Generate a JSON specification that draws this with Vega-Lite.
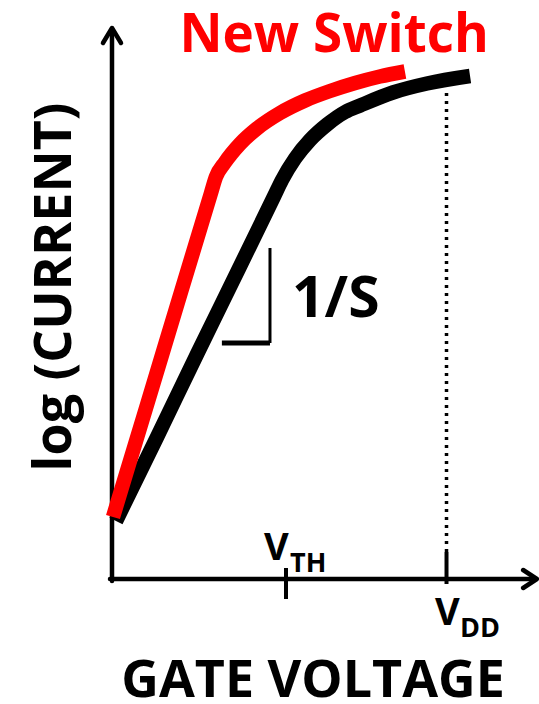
{
  "$schema": "https://vega.github.io/schema/vega-lite/v6.json",
  "width": 539,
  "height": 704,
  "autosize": "none",
  "padding": 0,
  "background": "white",
  "config": {"view": {"stroke": null}},
  "datasets": {
    "curves": [
      {"series": "Conventional", "v": 0.012, "logI": 1.14},
      {"series": "Conventional", "v": 0.135, "logI": 2.82},
      {"series": "Conventional", "v": 0.257, "logI": 4.51},
      {"series": "Conventional", "v": 0.383, "logI": 6.23},
      {"series": "Conventional", "v": 0.485, "logI": 7.63},
      {"series": "Conventional", "v": 0.509, "logI": 7.96},
      {"series": "Conventional", "v": 0.548, "logI": 8.39},
      {"series": "Conventional", "v": 0.593, "logI": 8.76},
      {"series": "Conventional", "v": 0.644, "logI": 9.07},
      {"series": "Conventional", "v": 0.698, "logI": 9.32},
      {"series": "Conventional", "v": 0.743, "logI": 9.45},
      {"series": "Conventional", "v": 0.841, "logI": 9.71},
      {"series": "Conventional", "v": 0.943, "logI": 9.89},
      {"series": "Conventional", "v": 1.072, "logI": 10.04},
      {"series": "New Switch", "v": 0.003, "logI": 1.22},
      {"series": "New Switch", "v": 0.106, "logI": 3.49},
      {"series": "New Switch", "v": 0.208, "logI": 5.75},
      {"series": "New Switch", "v": 0.296, "logI": 7.69},
      {"series": "New Switch", "v": 0.311, "logI": 8.02},
      {"series": "New Switch", "v": 0.338, "logI": 8.31},
      {"series": "New Switch", "v": 0.383, "logI": 8.68},
      {"series": "New Switch", "v": 0.434, "logI": 8.99},
      {"series": "New Switch", "v": 0.503, "logI": 9.30},
      {"series": "New Switch", "v": 0.578, "logI": 9.55},
      {"series": "New Switch", "v": 0.653, "logI": 9.74},
      {"series": "New Switch", "v": 0.728, "logI": 9.90},
      {"series": "New Switch", "v": 0.802, "logI": 10.03},
      {"series": "New Switch", "v": 0.877, "logI": 10.13}
    ],
    "axes": [
      {"name": "gate voltage", "v": -0.006, "logI": -0.02, "v2": 1.266, "logI2": -0.02},
      {"name": "log current", "v": 0, "logI": -0.06, "v2": 0, "logI2": 10.98}
    ],
    "arrowheads": [
      {"name": "current", "k": 0, "v": -0.027, "logI": 10.70},
      {"name": "current", "k": 1, "v": 0, "logI": 11.0},
      {"name": "current", "k": 2, "v": 0.027, "logI": 10.70},
      {"name": "voltage", "k": 0, "v": 1.231, "logI": 0.16},
      {"name": "voltage", "k": 1, "v": 1.272, "logI": -0.02},
      {"name": "voltage", "k": 2, "v": 1.231, "logI": -0.20}
    ],
    "ticks": [
      {"name": "VTH", "v": 0.521, "logI": 0.2, "logI2": -0.42},
      {"name": "VDD", "v": 1.0015, "logI": 0.52, "logI2": -0.12}
    ],
    "vddGuide": [
      {"v": 1.0015, "logI": 0.52, "logI2": 9.76}
    ],
    "slopeRun": [
      {"v": 0.329, "v2": 0.473, "logI": 4.70, "logI2": 4.70}
    ],
    "slopeRise": [
      {"v": 0.473, "v2": 0.473, "logI": 4.70, "logI2": 6.60}
    ],
    "titleRed": [
      {"label": "New Switch", "v": 0.665, "logI": 10.52}
    ],
    "slopeLabel": [
      {"label": "1/S", "v": 0.539, "logI": 5.22}
    ],
    "xLabel": [
      {"label": "GATE VOLTAGE", "v": 0.602, "logI": -2.38}
    ],
    "yLabel": [
      {"label": "log (CURRENT)", "v": -0.123, "logI": 5.82}
    ],
    "vMain": [
      {"label": "V", "v": 0.455, "logI": 0.36},
      {"label": "V", "v": 0.967, "logI": -0.94}
    ],
    "vSub": [
      {"label": "TH", "v": 0.533, "logI": 0.12},
      {"label": "DD", "v": 1.042, "logI": -1.18}
    ]
  },
  "encoding": {
    "x": {"field": "v", "type": "quantitative", "scale": {"domain": [-0.3353, 1.2784], "nice": false, "zero": false}, "axis": null},
    "y": {"field": "logI", "type": "quantitative", "scale": {"domain": [-2.52, 11.56], "nice": false, "zero": false}, "axis": null}
  },
  "layer": [
    {
      "data": {"name": "vddGuide"},
      "mark": {"type": "rule", "color": "black", "strokeWidth": 3.5, "strokeDash": [3, 5]},
      "encoding": {"y2": {"field": "logI2"}}
    },
    {
      "data": {"name": "axes"},
      "mark": {"type": "rule", "color": "black", "strokeWidth": 4.5, "strokeCap": "round"},
      "encoding": {"x2": {"field": "v2"}, "y2": {"field": "logI2"}}
    },
    {
      "data": {"name": "arrowheads"},
      "mark": {"type": "line", "color": "black", "strokeWidth": 4.5, "strokeCap": "round", "strokeJoin": "round"},
      "encoding": {"detail": {"field": "name"}, "order": {"field": "k"}}
    },
    {
      "data": {"name": "ticks"},
      "mark": {"type": "rule", "color": "black", "strokeWidth": 4},
      "encoding": {"y2": {"field": "logI2"}}
    },
    {
      "data": {"name": "slopeRun"},
      "mark": {"type": "rule", "color": "black", "strokeWidth": 5},
      "encoding": {"x2": {"field": "v2"}, "y2": {"field": "logI2"}}
    },
    {
      "data": {"name": "slopeRise"},
      "mark": {"type": "rule", "color": "black", "strokeWidth": 3},
      "encoding": {"x2": {"field": "v2"}, "y2": {"field": "logI2"}}
    },
    {
      "data": {"name": "curves"},
      "transform": [{"filter": "datum.series === 'Conventional'"}],
      "mark": {"type": "line", "color": "#000000", "strokeWidth": 14.5, "strokeCap": "butt", "interpolate": "monotone"},
      "encoding": {}
    },
    {
      "data": {"name": "curves"},
      "transform": [{"filter": "datum.series === 'New Switch'"}],
      "mark": {"type": "line", "color": "#ff0000", "strokeWidth": 14.5, "strokeCap": "butt", "interpolate": "monotone"},
      "encoding": {}
    },
    {
      "data": {"name": "titleRed"},
      "mark": {"type": "text", "font": "Open Sans", "fontWeight": "bold", "fontSize": 53, "color": "#ff0000", "align": "center", "baseline": "alphabetic"},
      "encoding": {"text": {"field": "label"}}
    },
    {
      "data": {"name": "slopeLabel"},
      "mark": {"type": "text", "font": "Open Sans", "fontWeight": "bold", "fontSize": 57, "color": "black", "align": "left", "baseline": "alphabetic"},
      "encoding": {"text": {"field": "label"}}
    },
    {
      "data": {"name": "xLabel"},
      "mark": {"type": "text", "font": "Open Sans", "fontWeight": "bold", "fontSize": 52, "color": "black", "align": "center", "baseline": "alphabetic"},
      "encoding": {"text": {"field": "label"}}
    },
    {
      "data": {"name": "yLabel"},
      "mark": {"type": "text", "font": "Open Sans", "fontWeight": "bold", "fontSize": 52, "color": "black", "align": "center", "baseline": "alphabetic", "angle": 270},
      "encoding": {"text": {"field": "label"}}
    },
    {
      "data": {"name": "vMain"},
      "mark": {"type": "text", "font": "Open Sans", "fontWeight": "bold", "fontSize": 38, "color": "black", "align": "left", "baseline": "alphabetic"},
      "encoding": {"text": {"field": "label"}}
    },
    {
      "data": {"name": "vSub"},
      "mark": {"type": "text", "font": "Open Sans", "fontWeight": "bold", "fontSize": 27, "color": "black", "align": "left", "baseline": "alphabetic"},
      "encoding": {"text": {"field": "label"}}
    }
  ]
}
